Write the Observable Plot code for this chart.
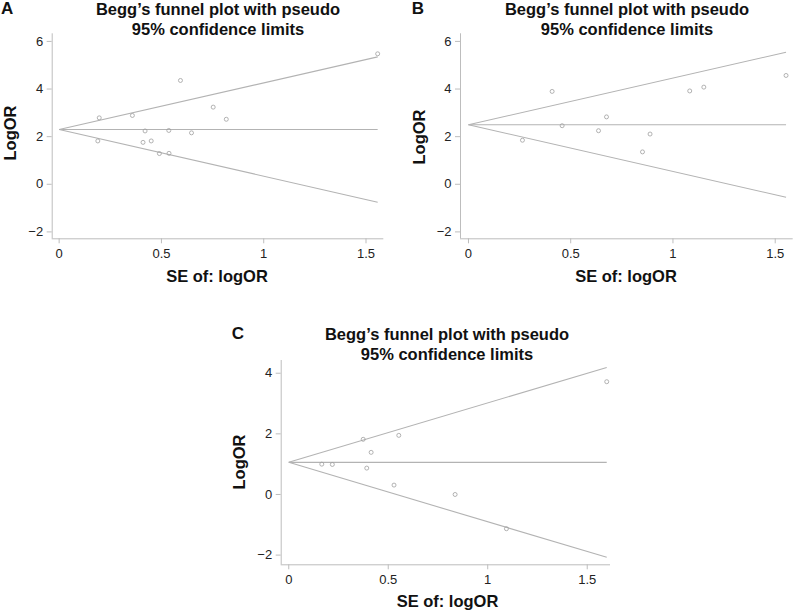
<!DOCTYPE html>
<html><head><meta charset="utf-8">
<script src="https://cdn.jsdelivr.net/npm/d3@7"></script>
<script src="https://cdn.jsdelivr.net/npm/@observablehq/plot@0.6"></script>
<style>
body{margin:0;background:#fff;font-family:"Liberation Sans",Arial,Helvetica,sans-serif;}
#root{position:relative;width:794px;height:611px;overflow:hidden;background:#fff;}
.p{position:absolute;}
.t{position:absolute;white-space:nowrap;font-weight:bold;font-size:16.5px;line-height:16.5px;color:#111;}
</style></head><body><div id="root"></div>
<script>
// ---- data ----
const seA = [0.196,0.189,0.358,0.42,0.41,0.45,0.49,0.536,0.537,0.593,0.647,0.753,0.817,1.557];
const logorA = [2.79,1.82,2.89,2.24,1.76,1.82,1.29,2.26,1.30,4.36,2.16,3.24,2.73,5.48];
const centerA = 2.30;
const seB = [0.264,0.409,0.458,0.636,0.675,0.851,0.888,1.082,1.151,1.553];
const logorB = [1.85,3.90,2.46,2.25,2.83,1.36,2.11,3.92,4.08,4.57];
const centerB = 2.50;
const seC = [0.166,0.219,0.374,0.414,0.392,0.553,0.529,0.836,1.094,1.598];
const logorC = [1.00,0.99,1.82,1.39,0.87,1.95,0.31,0.00,-1.13,3.72];
const centerC = 1.06;
const xTicks = [0,0.5,1,1.5];
const yTicksAB = [-2,0,2,4,6];
const yTicksC = [-2,0,2,4];
const panelLetters = ["A","B","C"];
const titleLines = ["Begg’s funnel plot with pseudo","95% confidence limits"];
const xLabel = "SE of: logOR";
const yLabel = "LogOR";
const z = 1.96;

const root = document.getElementById("root");
const FONT = '"Liberation Sans",Arial,Helvetica,sans-serif';
const FS = 16.5;

function funnel({se, logor, center, yTicks, xDomain, yDomain, width, height, ml, mr, mt, mb}) {
  const pts = se.map((s,i)=>({se:s, logor:logor[i]}));
  const seMax = d3.max(se);
  const links = [
    {x1:0,y1:center,x2:seMax,y2:center},
    {x1:0,y1:center,x2:seMax,y2:center+z*seMax},
    {x1:0,y1:center,x2:seMax,y2:center-z*seMax}
  ];
  return Plot.plot({
    width, height, marginLeft:ml, marginRight:mr, marginTop:mt, marginBottom:mb,
    style:{fontFamily:FONT, fontSize:"13px", background:"transparent", color:"#222"},
    x:{domain:xDomain},
    y:{domain:yDomain},
    marks:[
      Plot.ruleX([xDomain[0]],{stroke:"#bdbdbd"}),
      Plot.ruleY([yDomain[0]],{stroke:"#bdbdbd"}),
      Plot.axisX({ticks:xTicks, tickFormat:d=>String(d), tickSize:5, tickPadding:5, stroke:"#bdbdbd", fill:"#222", fontSize:13, label:null}),
      Plot.axisY({ticks:yTicks, tickFormat:d=>d<0?"\u2212"+Math.abs(d):String(d), tickSize:5, tickPadding:4, stroke:"#bdbdbd", fill:"#222", fontSize:13, label:null}),
      Plot.link(links,{x1:"x1",y1:"y1",x2:"x2",y2:"y2",stroke:"#b3b3b3",strokeWidth:1.1}),
      Plot.dot(pts,{x:"se",y:"logor",r:2,stroke:"#a0a0a0",strokeWidth:0.8,fill:"none"})
    ]
  });
}

function place(node, left, top){
  node.classList.add("p");
  node.style.left = left+"px"; node.style.top = top+"px";
  root.appendChild(node);
}
function text(str, x, baseline, align, size){
  const fs = size || FS;
  const d = document.createElement("div");
  d.className = "t"; d.textContent = str;
  d.style.fontSize = fs+"px"; d.style.lineHeight = fs+"px";
  d.style.top = Math.max(0, baseline - 0.8465*fs)+"px";
  d.style.left = x+"px";
  if (align === "center") d.style.transform = "translateX(-50%)";
  root.appendChild(d);
}
function vtext(str, cx, cy){
  const d = document.createElement("div");
  d.className = "t"; d.textContent = str;
  d.style.left = cx+"px"; d.style.top = cy+"px";
  d.style.transform = "translate(-50%,-50%) rotate(-90deg)";
  root.appendChild(d);
}

// Panel A
place(funnel({se:seA, logor:logorA, center:centerA, yTicks:yTicksAB,
  xDomain:[-0.034,1.587], yDomain:[-2.29,6.32], width:394, height:290,
  ml:51.7, mr:10.7, mt:33.3, mb:51.7}), 0, 0);
// Panel B
place(funnel({se:seB, logor:logorB, center:centerB, yTicks:yTicksAB,
  xDomain:[-0.039,1.588], yDomain:[-2.29,6.32], width:394, height:290,
  ml:60, mr:1.3, mt:33.3, mb:51.7}), 400, 0);
// Panel C
place(funnel({se:seC, logor:logorC, center:centerC, yTicks:yTicksC,
  xDomain:[-0.038,1.617], yDomain:[-2.32,4.42], width:420, height:311,
  ml:80.7, mr:10, mt:60, mb:46.7}), 200, 300);

// Text
const panels = [
  {letterX:1, titleX:218, t1:14.6, t2:34.5, xlabX:217, xlabB:282, ylab:[9.7,133]},
  {letterX:411.7, titleX:627, t1:14.6, t2:34.5, xlabX:626, xlabB:282, ylab:[419,136.7]},
  {letterX:231.7, titleX:447, t1:339.5, t2:360, xlabX:447.5, xlabB:606.7, ylab:[239,461.7]}
];
panels.forEach((p,i)=>{
  text(panelLetters[i], p.letterX, p.t1, "left", 17);
  text(titleLines[0], p.titleX, p.t1, "center");
  text(titleLines[1], p.titleX, p.t2, "center");
  text(xLabel, p.xlabX, p.xlabB, "center");
  vtext(yLabel, p.ylab[0], p.ylab[1]);
});
</script>
</body></html>
